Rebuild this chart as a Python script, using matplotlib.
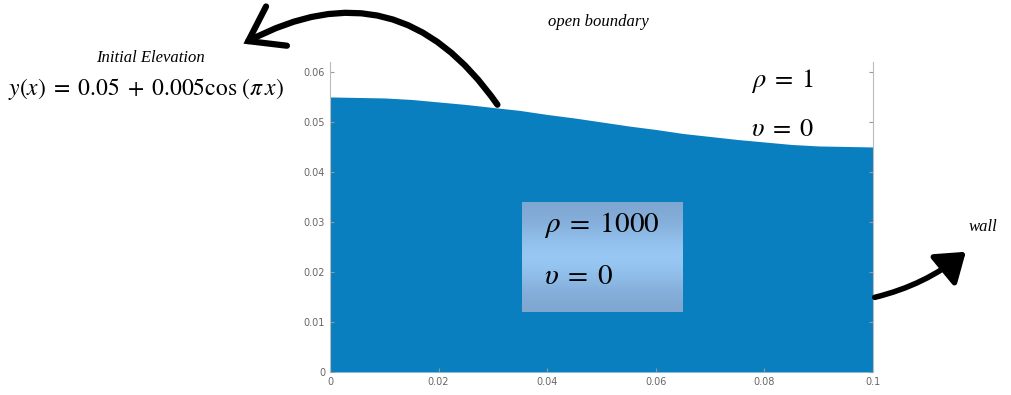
import numpy as np
import matplotlib
matplotlib.use("Agg")
import matplotlib.pyplot as plt
from matplotlib.patches import FancyArrowPatch

plt.rcParams['mathtext.fontset'] = 'stix'

# free-surface elevation
x_pos = [0.0, 0.005, 0.01, 0.015, 0.02, 0.025, 0.03, 0.035, 0.04, 0.045, 0.05,
         0.055, 0.06, 0.065, 0.07, 0.075, 0.08, 0.085, 0.09, 0.095, 0.1]
elev = [0.0550, 0.0549, 0.0548, 0.0545, 0.0540, 0.0535, 0.0529, 0.0523, 0.0515,
        0.0508, 0.0500, 0.0492, 0.0485, 0.0477, 0.0471, 0.0465, 0.0460, 0.0455,
        0.0452, 0.0451, 0.0450]
xticks = [0, 0.02, 0.04, 0.06, 0.08, 0.1]
xlabels = ['0', '0.02', '0.04', '0.06', '0.08', '0.1']
yticks = [0, 0.01, 0.02, 0.03, 0.04, 0.05, 0.06]
ylabels = ['0', '0.01', '0.02', '0.03', '0.04', '0.05', '0.06']

fig = plt.figure(figsize=(10.11, 3.95), dpi=100)
ax = fig.add_axes([0.3264, 0.0582, 0.537, 0.785])

ax.fill_between(x_pos, 0, elev, color='#0a7fc0', lw=0)
ax.set_xticks(xticks)
ax.set_xticklabels(xlabels)
ax.set_yticks(yticks)
ax.set_yticklabels(ylabels)
ax.tick_params(direction='in', right=True, length=3, labelsize=7,
               labelcolor='#666666', color='#999999')
for s in ['top', 'bottom']:
    ax.spines[s].set_visible(False)
for s in ['left', 'right']:
    ax.spines[s].set_color('#bbbbbb')

# gradient box with water properties
grad = np.array([0.0, 0.5, 1.0, 0.5, 0.0]).reshape(-1, 1)
cmap = matplotlib.colors.LinearSegmentedColormap.from_list('box', ['#7fa7d2', '#9ccdfa'])
ax.imshow(grad, cmap=cmap, extent=[0.0354, 0.0650, 0.012, 0.0338],
          aspect='auto', interpolation='bicubic', zorder=3)
ax.set_xlim(0, 0.1)
ax.set_ylim(0, 0.062)

fig.text(0.538, 0.412, r'$\rho\;=\;1000$', fontsize=21, color='black')
fig.text(0.538, 0.280, r'$\upsilon\;=\;0$', fontsize=21, color='black')

fig.text(0.743, 0.780, r'$\rho\;=\;1$', fontsize=19, color='black')
fig.text(0.743, 0.655, r'$\upsilon\;=\;0$', fontsize=19, color='black')

fig.text(0.592, 0.945, 'open boundary', fontsize=12, style='italic',
         family='Liberation Serif', ha='center', va='center')
fig.text(0.149, 0.853, 'Initial Elevation', fontsize=12, style='italic',
         family='Liberation Serif', ha='center', va='center')
fig.text(0.008, 0.775, r'$y(x)\;=\;0.05\;+\;0.005\mathrm{cos}\ (\pi\,x)$',
         fontsize=17, ha='left', va='center')
fig.text(0.958, 0.425, 'wall', fontsize=12, style='italic',
         family='Liberation Serif', ha='left', va='center')

# curved arrows
a1 = FancyArrowPatch((499 / 1011, 1 - 107 / 395), (241 / 1011, 1 - 45 / 395),
                     transform=fig.transFigure, connectionstyle='arc3,rad=0.45',
                     arrowstyle='->,head_length=1.15,head_width=0.8',
                     mutation_scale=20, lw=4.5, color='black',
                     capstyle='round', joinstyle='miter')
fig.patches.append(a1)
a2 = FancyArrowPatch((872 / 1011, 1 - 298 / 395), (968 / 1011, 1 - 250 / 395),
                     transform=fig.transFigure, connectionstyle='arc3,rad=0.12',
                     arrowstyle='-|>,head_length=0.85,head_width=0.6',
                     mutation_scale=20, lw=4, color='black')
fig.patches.append(a2)

fig.savefig('out.png', dpi=100)
